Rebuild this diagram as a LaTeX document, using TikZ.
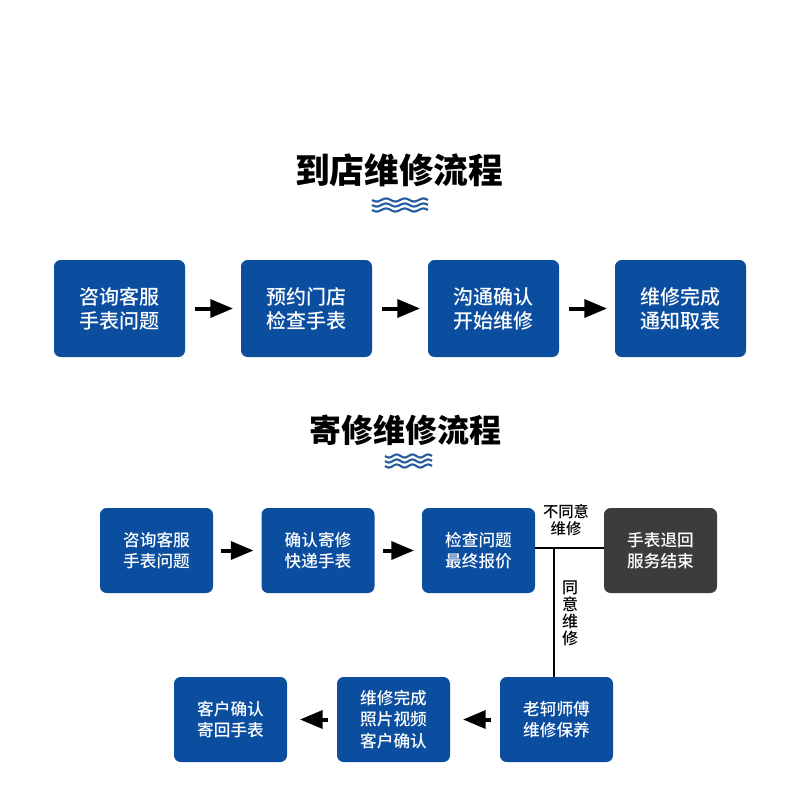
\documentclass[tikz,border=0pt]{standalone}
\usepackage{fontspec}
\setmainfont{Noto Sans CJK SC}
\newfontfamily\medfont{Noto Sans CJK SC Medium}
\newfontfamily\heavyfont{Noto Sans CJK SC Black}
\usetikzlibrary{arrows}
\usetikzlibrary{positioning}
\definecolor{boxblue}{RGB}{11,78,160}
\definecolor{boxgray}{RGB}{60,60,60}
\definecolor{waveblue}{RGB}{38,92,160}
\tikzset{
  bigbox/.style={fill=boxblue,rounded corners=5pt,minimum width=98.25pt,minimum height=72.75pt,
    text=white,align=center,font=\medfont\fontsize{15}{18}\selectfont},
  smallbox/.style={fill=boxblue,rounded corners=5pt,minimum width=84.75pt,minimum height=63.75pt,
    text=white,align=center,font=\medfont\fontsize{12.5}{16}\selectfont},
  flowarrow/.style={->,line width=3pt,black},
  headline/.style={font=\heavyfont\fontsize{26}{30}\selectfont},
  tagtext/.style={align=center,font=\medfont\fontsize{11.5}{13}\selectfont}
}
\begin{document}
\begin{tikzpicture}[line cap=butt,line join=round,>=triangle 45,x=0.75pt,y=-0.75pt]
\useasboundingbox (0,0) rectangle (800,800);
% titles
\node[headline] (title1) at (399,170) {到店维修流程};
\node[headline,font=\heavyfont\fontsize{24}{28}\selectfont] (title2) at (405,430) {寄修维修流程};
\foreach \o in {-5,0,5}{
  \draw[waveblue,line width=1.6pt] plot[domain=0:56,samples=60] ({372+\x},{205+\o+1.5*sin(\x/18.7*360)});
  \draw[waveblue,line width=1.6pt] plot[domain=0:47,samples=60] ({385+\x},{461+\o+1.5*sin(\x/15.7*360)});
}
% shop flow
\node[bigbox] (ask1) at (119.5,308.5) {咨询客服\\手表问题};
\node[bigbox] (book) at (306.5,308.5) {预约门店\\检查手表};
\node[bigbox] (talk) at (493.5,308.5) {沟通确认\\开始维修};
\node[bigbox] (done1) at (680.5,308.5) {维修完成\\通知取表};
\draw[flowarrow,shorten <=7pt,shorten >=6pt] (ask1) -- (book);
\draw[flowarrow,shorten <=7pt,shorten >=6pt] (book) -- (talk);
\draw[flowarrow,shorten <=7pt,shorten >=6pt] (talk) -- (done1);
% mail flow
\node[smallbox] (ask2) at (156.5,550.5) {咨询客服\\手表问题};
\node[smallbox] (post) at (318,550.5) {确认寄修\\快递手表};
\node[smallbox] (quote) at (478.5,550.5) {检查问题\\最终报价};
\node[smallbox,fill=boxgray] (back) at (660.5,550.5) {手表退回\\服务结束};
\node[smallbox] (master) at (556.5,719.5) {老轲师傅\\维修保养};
\node[smallbox] (photo) at (393.5,719.5) {维修完成\\照片视频\\客户确认};
\node[smallbox] (check) at (230.5,719.5) {客户确认\\寄回手表};
\draw[flowarrow,shorten <=6pt,shorten >=6pt] (ask2) -- (post);
\draw[flowarrow,shorten <=6pt,shorten >=6pt] (post) -- (quote);
\draw[flowarrow,shorten <=6.75pt,shorten >=9.75pt] (master) -- (photo);
\draw[flowarrow,shorten <=6.75pt,shorten >=9.75pt] (photo) -- (check);
\coordinate (split) at (554,548);
\draw[line width=1.5pt] (quote.east |- split) -- (back.west |- split);
\draw[line width=1.5pt] (split) -- (split |- master.north);
\node[tagtext] (nolabel) at (566,520) {不同意\\维修};
\node[tagtext,font=\medfont\fontsize{12}{12.75}\selectfont] (yeslabel) at (570,613) {同\\意\\维\\修};
\end{tikzpicture}
\end{document}
